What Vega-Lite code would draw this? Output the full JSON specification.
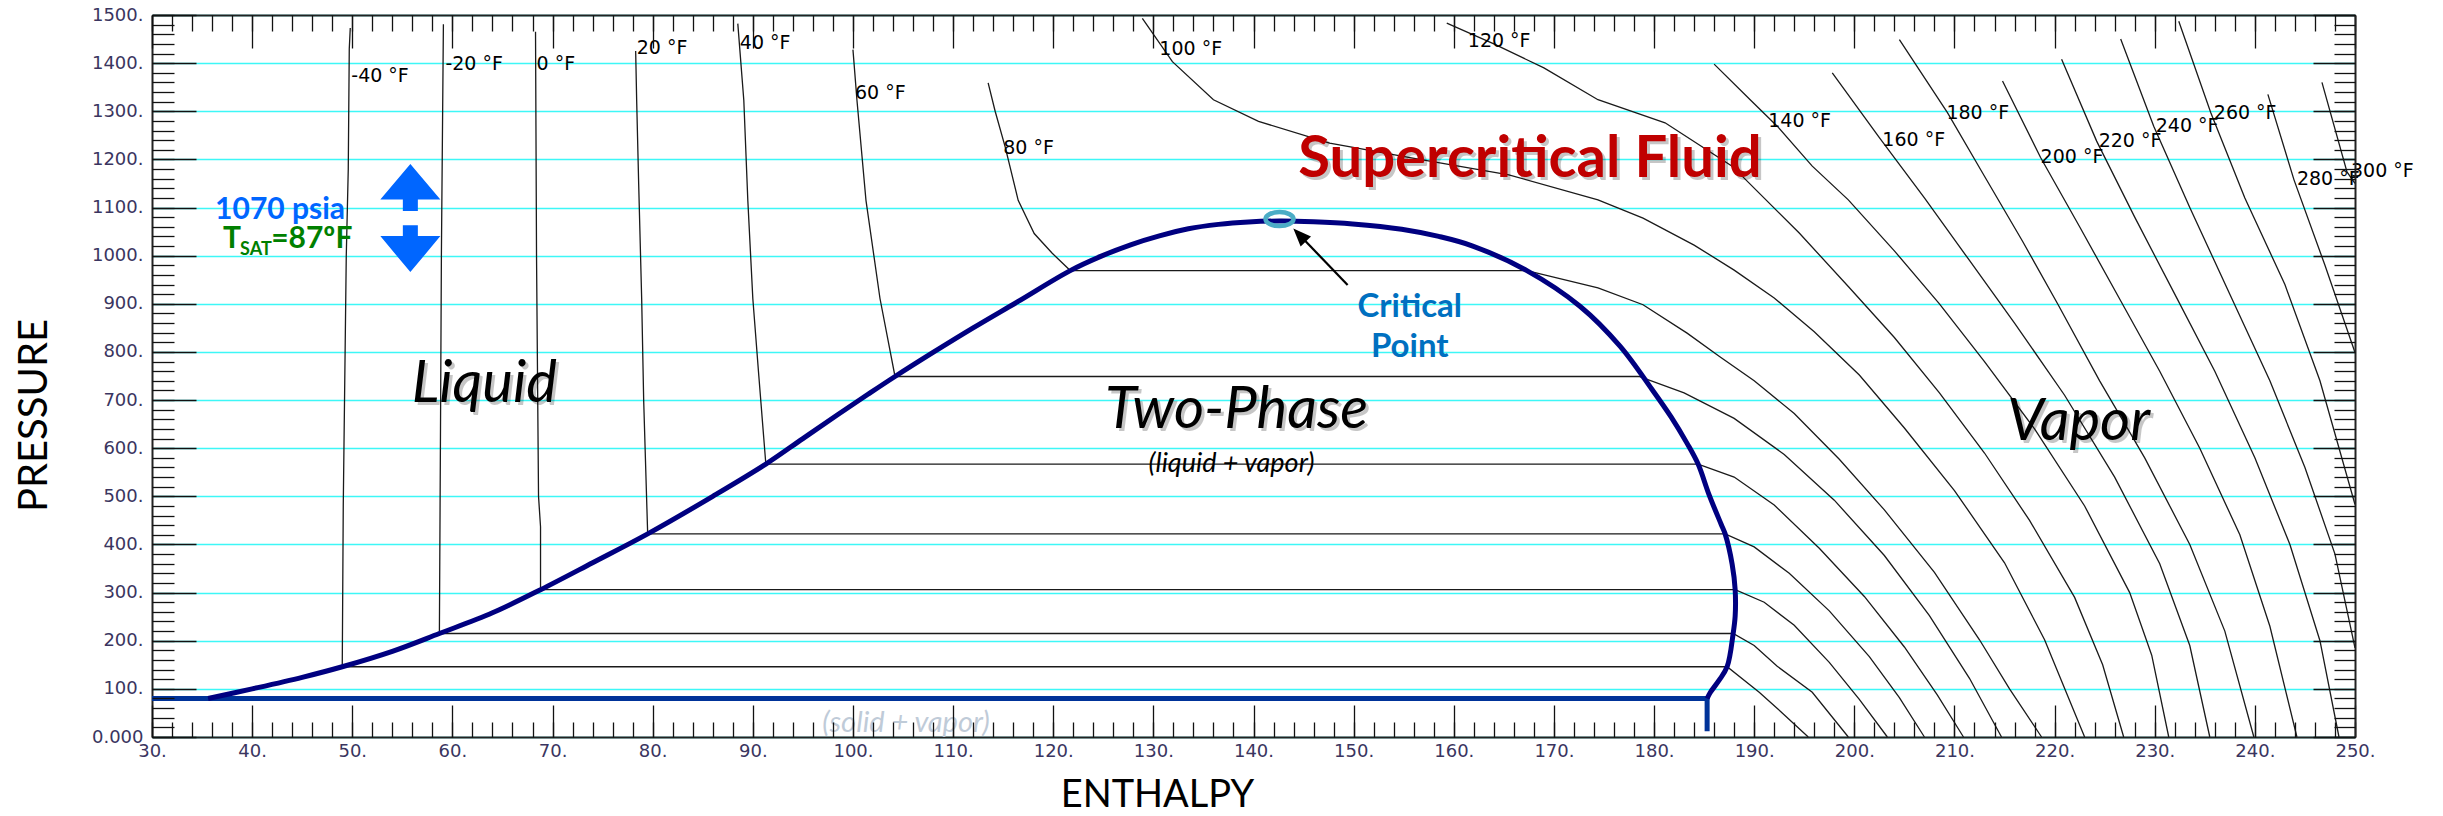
{
  "$schema": "https://vega.github.io/schema/vega-lite/v6.json",
  "width": 2203,
  "height": 722,
  "autosize": {"type": "none"},
  "padding": {"left": 152, "top": 15, "right": 88, "bottom": 79},
  "background": "white",
  "config": {"view": {"stroke": null}},
  "resolve": {"axis": {"x": "independent", "y": "independent"}},
  "datasets": {
    "iso": [
      {"T":"-40","i":0,"h":49.8,"p":1473},{"T":"-40","i":1,"h":49.7,"p":1430},{"T":"-40","i":2,"h":49.6,"p":1180},{"T":"-40","i":3,"h":49.4,"p":1000},{"T":"-40","i":4,"h":49.1,"p":480},{"T":"-40","i":5,"h":49.0,"p":146},{"T":"-40","i":6,"h":187.3,"p":146},{"T":"-40","i":7,"h":190.5,"p":93},{"T":"-40","i":8,"h":192.8,"p":50},{"T":"-40","i":9,"h":195.4,"p":0},
      {"T":"-20","i":0,"h":59.1,"p":1481},{"T":"-20","i":1,"h":58.9,"p":1000},{"T":"-20","i":2,"h":58.8,"p":600},{"T":"-20","i":3,"h":58.7,"p":215},{"T":"-20","i":4,"h":187.9,"p":215},{"T":"-20","i":5,"h":190,"p":190},{"T":"-20","i":6,"h":192.3,"p":147},{"T":"-20","i":7,"h":195.8,"p":93},{"T":"-20","i":8,"h":199.4,"p":0},
      {"T":"0","i":0,"h":68.3,"p":1465},{"T":"0","i":1,"h":68.4,"p":1000},{"T":"0","i":2,"h":68.6,"p":500},{"T":"0","i":3,"h":68.8,"p":437},{"T":"0","i":4,"h":68.8,"p":306},{"T":"0","i":5,"h":188.1,"p":306},{"T":"0","i":6,"h":191,"p":280},{"T":"0","i":7,"h":194,"p":232},{"T":"0","i":8,"h":197.5,"p":155},{"T":"0","i":9,"h":200.5,"p":78},{"T":"0","i":10,"h":203.3,"p":0},
      {"T":"20","i":0,"h":78.3,"p":1425},{"T":"20","i":1,"h":78.4,"p":1323},{"T":"20","i":2,"h":78.6,"p":1150},{"T":"20","i":3,"h":78.9,"p":911},{"T":"20","i":4,"h":79.1,"p":700},{"T":"20","i":5,"h":79.5,"p":422},{"T":"20","i":6,"h":187.1,"p":422},{"T":"20","i":7,"h":190,"p":395},{"T":"20","i":8,"h":193.5,"p":340},{"T":"20","i":9,"h":197.5,"p":262},{"T":"20","i":10,"h":201.5,"p":167},{"T":"20","i":11,"h":204.5,"p":82},{"T":"20","i":12,"h":207,"p":0},
      {"T":"40","i":0,"h":88.5,"p":1482},{"T":"40","i":1,"h":89.1,"p":1323},{"T":"40","i":2,"h":89.5,"p":1115},{"T":"40","i":3,"h":90.0,"p":911},{"T":"40","i":4,"h":90.6,"p":750},{"T":"40","i":5,"h":91.3,"p":567},{"T":"40","i":6,"h":184.4,"p":567},{"T":"40","i":7,"h":188,"p":540},{"T":"40","i":8,"h":192,"p":482},{"T":"40","i":9,"h":196.5,"p":392},{"T":"40","i":10,"h":201,"p":292},{"T":"40","i":11,"h":205,"p":187},{"T":"40","i":12,"h":208.3,"p":87},{"T":"40","i":13,"h":210.9,"p":0},
      {"T":"60","i":0,"h":100.0,"p":1428},{"T":"60","i":1,"h":100.4,"p":1323},{"T":"60","i":2,"h":101.3,"p":1115},{"T":"60","i":3,"h":102.7,"p":911},{"T":"60","i":4,"h":104.2,"p":749},{"T":"60","i":5,"h":178.5,"p":749},{"T":"60","i":6,"h":183,"p":715},{"T":"60","i":7,"h":188,"p":662},{"T":"60","i":8,"h":193,"p":587},{"T":"60","i":9,"h":198,"p":492},{"T":"60","i":10,"h":203,"p":377},{"T":"60","i":11,"h":207.5,"p":252},{"T":"60","i":12,"h":211.5,"p":122},{"T":"60","i":13,"h":214.7,"p":0},
      {"T":"80","i":0,"h":113.5,"p":1359},{"T":"80","i":1,"h":114.2,"p":1300},{"T":"80","i":2,"h":115.2,"p":1226},{"T":"80","i":3,"h":116.5,"p":1115},{"T":"80","i":4,"h":118.1,"p":1046},{"T":"80","i":5,"h":119.9,"p":1005},{"T":"80","i":6,"h":121.7,"p":969},{"T":"80","i":7,"h":167.3,"p":969},{"T":"80","i":8,"h":174.4,"p":933},{"T":"80","i":9,"h":178.9,"p":898},{"T":"80","i":10,"h":183.3,"p":839},{"T":"80","i":11,"h":186.5,"p":791},{"T":"80","i":12,"h":190,"p":740},{"T":"80","i":13,"h":194,"p":672},{"T":"80","i":14,"h":198.5,"p":577},{"T":"80","i":15,"h":203,"p":472},{"T":"80","i":16,"h":208,"p":342},{"T":"80","i":17,"h":212.5,"p":202},{"T":"80","i":18,"h":215.5,"p":100},{"T":"80","i":19,"h":218.7,"p":0},
      {"T":"100","i":0,"h":128.9,"p":1493},{"T":"100","i":1,"h":131.9,"p":1403},{"T":"100","i":2,"h":136,"p":1324},{"T":"100","i":3,"h":140.5,"p":1279},{"T":"100","i":4,"h":147.6,"p":1234},{"T":"100","i":5,"h":156.6,"p":1200},{"T":"100","i":6,"h":165.5,"p":1168},{"T":"100","i":7,"h":174.4,"p":1116},{"T":"100","i":8,"h":178.9,"p":1078},{"T":"100","i":9,"h":184,"p":1022},{"T":"100","i":10,"h":188,"p":970},{"T":"100","i":11,"h":192,"p":912},{"T":"100","i":12,"h":196,"p":842},{"T":"100","i":13,"h":200.5,"p":752},{"T":"100","i":14,"h":205,"p":642},{"T":"100","i":15,"h":210,"p":512},{"T":"100","i":16,"h":215,"p":362},{"T":"100","i":17,"h":219,"p":202},{"T":"100","i":18,"h":223,"p":0},
      {"T":"120","i":0,"h":159.3,"p":1483},{"T":"120","i":1,"h":164,"p":1440},{"T":"120","i":2,"h":169,"p":1390},{"T":"120","i":3,"h":174.4,"p":1324},{"T":"120","i":4,"h":181.1,"p":1276},{"T":"120","i":5,"h":187.8,"p":1186},{"T":"120","i":6,"h":194.5,"p":1047},{"T":"120","i":7,"h":199.4,"p":936},{"T":"120","i":8,"h":204,"p":830},{"T":"120","i":9,"h":208.5,"p":715},{"T":"120","i":10,"h":213,"p":590},{"T":"120","i":11,"h":217.5,"p":450},{"T":"120","i":12,"h":222,"p":290},{"T":"120","i":13,"h":224.8,"p":150},{"T":"120","i":14,"h":226.9,"p":0},
      {"T":"140","i":0,"h":186.0,"p":1398},{"T":"140","i":1,"h":189.6,"p":1324},{"T":"140","i":2,"h":192.3,"p":1269},{"T":"140","i":3,"h":195.8,"p":1186},{"T":"140","i":4,"h":199.4,"p":1116},{"T":"140","i":5,"h":204,"p":1010},{"T":"140","i":6,"h":208.5,"p":900},{"T":"140","i":7,"h":213,"p":780},{"T":"140","i":8,"h":218,"p":640},{"T":"140","i":9,"h":223,"p":480},{"T":"140","i":10,"h":227.5,"p":300},{"T":"140","i":11,"h":229.7,"p":170},{"T":"140","i":12,"h":231.4,"p":0},
      {"T":"160","i":0,"h":197.8,"p":1380},{"T":"160","i":1,"h":202.5,"p":1245},{"T":"160","i":2,"h":207,"p":1120},{"T":"160","i":3,"h":211.5,"p":990},{"T":"160","i":4,"h":216,"p":860},{"T":"160","i":5,"h":221,"p":710},{"T":"160","i":6,"h":226,"p":540},{"T":"160","i":7,"h":230.5,"p":360},{"T":"160","i":8,"h":233.5,"p":190},{"T":"160","i":9,"h":235.5,"p":0},
      {"T":"180","i":0,"h":204.5,"p":1449},{"T":"180","i":1,"h":209.3,"p":1297},{"T":"180","i":2,"h":213,"p":1165},{"T":"180","i":3,"h":216.8,"p":1030},{"T":"180","i":4,"h":220.3,"p":900},{"T":"180","i":5,"h":224.5,"p":740},{"T":"180","i":6,"h":229,"p":580},{"T":"180","i":7,"h":233.5,"p":400},{"T":"180","i":8,"h":237,"p":220},{"T":"180","i":9,"h":239.9,"p":0},
      {"T":"200","i":0,"h":214.8,"p":1363},{"T":"200","i":1,"h":218.6,"p":1204},{"T":"200","i":2,"h":222.5,"p":1060},{"T":"200","i":3,"h":226.5,"p":910},{"T":"200","i":4,"h":230.5,"p":760},{"T":"200","i":5,"h":234.5,"p":600},{"T":"200","i":6,"h":238.5,"p":420},{"T":"200","i":7,"h":241.5,"p":230},{"T":"200","i":8,"h":244.2,"p":0},
      {"T":"220","i":0,"h":220.7,"p":1408},{"T":"220","i":1,"h":224.2,"p":1238},{"T":"220","i":2,"h":228,"p":1080},{"T":"220","i":3,"h":232,"p":920},{"T":"220","i":4,"h":236,"p":760},{"T":"220","i":5,"h":240,"p":580},{"T":"220","i":6,"h":243.5,"p":400},{"T":"220","i":7,"h":246.5,"p":200},{"T":"220","i":8,"h":248.4,"p":0},
      {"T":"240","i":0,"h":226.6,"p":1450},{"T":"240","i":1,"h":229.9,"p":1269},{"T":"240","i":2,"h":233.5,"p":1100},{"T":"240","i":3,"h":237.5,"p":920},{"T":"240","i":4,"h":241.5,"p":740},{"T":"240","i":5,"h":245,"p":560},{"T":"240","i":6,"h":248,"p":380},{"T":"240","i":7,"h":250,"p":185},
      {"T":"260","i":0,"h":232.4,"p":1487},{"T":"260","i":1,"h":235.6,"p":1297},{"T":"260","i":2,"h":239,"p":1120},{"T":"260","i":3,"h":243,"p":940},{"T":"260","i":4,"h":246.5,"p":740},{"T":"260","i":5,"h":250,"p":483},
      {"T":"280","i":0,"h":241.3,"p":1335},{"T":"280","i":1,"h":243.9,"p":1158},{"T":"280","i":2,"h":247,"p":980},{"T":"280","i":3,"h":250,"p":799},
      {"T":"300","i":0,"h":246.7,"p":1360},{"T":"300","i":1,"h":249.2,"p":1174},{"T":"300","i":2,"h":250,"p":1150}
    ],
    "dome": [
      {"i":0,"h":35.6,"p":80},{"i":1,"h":40,"p":100},{"i":2,"h":45,"p":124},{"i":3,"h":49.0,"p":146},{"i":4,"h":54,"p":178},{"i":5,"h":58.7,"p":215},{"i":6,"h":64,"p":258},{"i":7,"h":68.8,"p":306},{"i":8,"h":74,"p":362},{"i":9,"h":79.5,"p":422},{"i":10,"h":86,"p":500},{"i":11,"h":91.3,"p":567},{"i":12,"h":95,"p":620},{"i":13,"h":98.5,"p":670},{"i":14,"h":101.5,"p":712},{"i":15,"h":104.2,"p":749},{"i":16,"h":108,"p":799},{"i":17,"h":112,"p":850},{"i":18,"h":116.5,"p":905},{"i":19,"h":121.7,"p":969},{"i":20,"h":124.8,"p":999},{"i":21,"h":127.8,"p":1023},{"i":22,"h":130.6,"p":1041},{"i":23,"h":133.5,"p":1056},{"i":24,"h":136.5,"p":1065},{"i":25,"h":139.5,"p":1070},{"i":26,"h":142.6,"p":1072},{"i":27,"h":146,"p":1070.5},{"i":28,"h":149.9,"p":1066},{"i":29,"h":154.8,"p":1055},{"i":30,"h":158.5,"p":1040},{"i":31,"h":161.9,"p":1020},{"i":32,"h":167.3,"p":969},{"i":33,"h":172.6,"p":895},{"i":34,"h":176.6,"p":812},{"i":35,"h":179.8,"p":722},{"i":36,"h":181.7,"p":665},{"i":37,"h":183.3,"p":610},{"i":38,"h":184.4,"p":567},{"i":39,"h":185.5,"p":503},{"i":40,"h":186.7,"p":442},{"i":41,"h":187.1,"p":422},{"i":42,"h":187.8,"p":359},{"i":43,"h":188.1,"p":306},{"i":44,"h":188.1,"p":251},{"i":45,"h":187.9,"p":215},{"i":46,"h":187.3,"p":146},{"i":47,"h":186.5,"p":118},{"i":48,"h":185.6,"p":92},{"i":49,"h":185.3,"p":80}
    ],
    "isolabels": [
      {"t":"-40 °F","h":49.9,"p":1374},{"t":"-20 °F","h":59.3,"p":1398},{"t":"0 °F","h":68.4,"p":1398},{"t":"20 °F","h":78.4,"p":1431},{"t":"40 °F","h":88.7,"p":1441},{"t":"60 °F","h":100.2,"p":1337},{"t":"80 °F","h":115.0,"p":1224},{"t":"100 °F","h":130.6,"p":1429},{"t":"120 °F","h":161.4,"p":1446},{"t":"140 °F","h":191.4,"p":1280},{"t":"160 °F","h":202.8,"p":1240},{"t":"180 °F","h":209.2,"p":1297},{"t":"200 °F","h":218.6,"p":1204},{"t":"220 °F","h":224.4,"p":1238},{"t":"240 °F","h":230.1,"p":1270},{"t":"260 °F","h":235.9,"p":1297},{"t":"280 °F","h":244.2,"p":1159},{"t":"300 °F","h":249.6,"p":1175}
    ],
    "regions": [
      {"t":"Liquid","h":63.2,"p":697},{"t":"Two-Phase","h":138.3,"p":641},{"t":"Vapor","h":222.4,"p":618}
    ]
  },
  "layer": [
    {
      "data": {"name": "iso"},
      "mark": {"type": "line", "stroke": "#1a1a1a", "strokeWidth": 1.3},
      "encoding": {
        "x": {"field": "h", "type": "quantitative", "scale": {"domain": [30, 250], "nice": false, "zero": false},
          "axis": {"orient": "bottom", "title": "ENTHALPY", "values": [30,40,50,60,70,80,90,100,110,120,130,140,150,160,170,180,190,200,210,220,230,240,250],
            "labelExpr": "datum.value + '.'", "ticks": false, "grid": false, "domain": true, "domainColor": "#222222", "domainWidth": 2,
            "labelFont": "DejaVu Sans", "labelFontSize": 18, "labelColor": "#3A3560", "labelPadding": 5, "labelFlush": false, "labelOverlap": false, "labelBound": false,
            "titleFont": "Lato", "titleFontSize": 38, "titleFontWeight": "normal", "titleColor": "#000000", "titleX": 1005, "titleY": 69, "titleAlign": "center", "titleBaseline": "alphabetic", "zindex": 0}},
        "y": {"field": "p", "type": "quantitative", "scale": {"domain": [0, 1500], "nice": false, "zero": false},
          "axis": {"orient": "left", "title": "PRESSURE", "values": [0,100,200,300,400,500,600,700,800,900,1000,1100,1200,1300,1400,1500],
            "labelExpr": "datum.value == 0 ? '0.000' : datum.value + '.'", "ticks": false, "grid": true, "gridColor": "#3DF7F7", "gridWidth": 1.5, "gridOpacity": 1,
            "domain": true, "domainColor": "#222222", "domainWidth": 2,
            "labelFont": "DejaVu Sans", "labelFontSize": 18, "labelColor": "#3A3560", "labelPadding": 9, "labelFlush": false, "labelOverlap": false, "labelBound": false,
            "titleFont": "Lato", "titleFontSize": 40, "titleFontWeight": "normal", "titleColor": "#000000", "titleAngle": 270, "titleX": -106, "titleY": 400, "titleAlign": "center", "titleBaseline": "alphabetic", "zindex": 0}},
        "detail": {"field": "T", "type": "nominal"},
        "order": {"field": "i", "type": "quantitative"}
      }
    },
    {
      "data": {"values": [{"i":0,"h":30,"p":80},{"i":1,"h":185.3,"p":80},{"i":2,"h":185.3,"p":12}]},
      "mark": {"type": "line", "stroke": "#003399", "strokeWidth": 5, "strokeJoin": "miter"},
      "encoding": {
        "x": {"field": "h", "type": "quantitative", "scale": {"domain": [30, 250], "nice": false, "zero": false},
          "axis": {"orient": "top", "offset": -722, "title": null, "labels": false, "grid": false, "domain": false, "ticks": true, "tickSize": 32, "tickColor": "#111111", "tickWidth": 1.3, "zindex": 1,
            "values": [30,40,50,60,70,80,90,100,110,120,130,140,150,160,170,180,190,200,210,220,230,240,250]}},
        "y": {"field": "p", "type": "quantitative", "scale": {"domain": [0, 1500], "nice": false, "zero": false},
          "axis": {"orient": "right", "offset": -2203, "title": null, "labels": false, "grid": false, "domain": false, "ticks": true, "tickSize": 44, "tickColor": "#111111", "tickWidth": 1.3, "zindex": 1,
            "values": [0,100,200,300,400,500,600,700,800,900,1000,1100,1200,1300,1400,1500]}},
        "order": {"field": "i", "type": "quantitative"}
      }
    },
    {
      "data": {"name": "dome"},
      "mark": {"type": "line", "stroke": "#000080", "strokeWidth": 5, "interpolate": "catmull-rom"},
      "encoding": {
        "x": {"field": "h", "type": "quantitative", "scale": {"domain": [30, 250], "nice": false, "zero": false},
          "axis": {"orient": "top", "offset": -722, "title": null, "labels": false, "grid": false, "domain": false, "ticks": true, "tickSize": 15, "tickColor": "#111111", "tickWidth": 1.3, "zindex": 1,
            "values": [30,32,34,36,38,40,42,44,46,48,50,52,54,56,58,60,62,64,66,68,70,72,74,76,78,80,82,84,86,88,90,92,94,96,98,100,102,104,106,108,110,112,114,116,118,120,122,124,126,128,130,132,134,136,138,140,142,144,146,148,150,152,154,156,158,160,162,164,166,168,170,172,174,176,178,180,182,184,186,188,190,192,194,196,198,200,202,204,206,208,210,212,214,216,218,220,222,224,226,228,230,232,234,236,238,240,242,244,246,248,250]}},
        "y": {"field": "p", "type": "quantitative", "scale": {"domain": [0, 1500], "nice": false, "zero": false},
          "axis": {"orient": "right", "offset": -2203, "title": null, "labels": false, "grid": false, "domain": false, "ticks": true, "tickSize": 22, "tickColor": "#111111", "tickWidth": 1.3, "zindex": 1,
            "values": [0,20,40,60,80,100,120,140,160,180,200,220,240,260,280,300,320,340,360,380,400,420,440,460,480,500,520,540,560,580,600,620,640,660,680,700,720,740,760,780,800,820,840,860,880,900,920,940,960,980,1000,1020,1040,1060,1080,1100,1120,1140,1160,1180,1200,1220,1240,1260,1280,1300,1320,1340,1360,1380,1400,1420,1440,1460,1480,1500]}},
        "order": {"field": "i", "type": "quantitative"}
      }
    },
    {
      "data": {"values": [{"h": 142.6, "p": 1076}]},
      "mark": {"type": "point", "shape": "M -1 0 C -1 -0.276 -0.552 -0.5 0 -0.5 C 0.552 -0.5 1 -0.276 1 0 C 1 0.276 0.552 0.5 0 0.5 C -0.552 0.5 -1 0.276 -1 0 Z", "size": 784, "filled": false, "stroke": "#4BACC6", "strokeWidth": 4.5, "opacity": 1},
      "encoding": {
        "x": {"field": "h", "type": "quantitative", "scale": {"domain": [30, 250], "nice": false, "zero": false},
          "axis": {"orient": "bottom", "offset": -722, "title": null, "labels": false, "grid": false, "domain": true, "domainColor": "#222222", "domainWidth": 2, "ticks": true, "tickSize": 33, "tickColor": "#111111", "tickWidth": 1.3, "zindex": 1,
            "values": [30,40,50,60,70,80,90,100,110,120,130,140,150,160,170,180,190,200,210,220,230,240,250]}},
        "y": {"field": "p", "type": "quantitative", "scale": {"domain": [0, 1500], "nice": false, "zero": false},
          "axis": {"orient": "left", "offset": -2203, "title": null, "labels": false, "grid": false, "domain": true, "domainColor": "#222222", "domainWidth": 2, "ticks": true, "tickSize": 42, "tickColor": "#111111", "tickWidth": 1.3, "zindex": 1,
            "values": [0,100,200,300,400,500,600,700,800,900,1000,1100,1200,1300,1400,1500]}}
      }
    },
    {
      "data": {"values": [{"h": 149.4, "p": 939, "h2": 144.6, "p2": 1043}]},
      "mark": {"type": "rule", "stroke": "#000000", "strokeWidth": 2.2},
      "encoding": {
        "x": {"field": "h", "type": "quantitative", "scale": {"domain": [30, 250], "nice": false, "zero": false},
          "axis": {"orient": "bottom", "offset": -722, "title": null, "labels": false, "grid": false, "domain": false, "ticks": true, "tickSize": 16, "tickColor": "#111111", "tickWidth": 1.3, "zindex": 1,
            "values": [30,32,34,36,38,40,42,44,46,48,50,52,54,56,58,60,62,64,66,68,70,72,74,76,78,80,82,84,86,88,90,92,94,96,98,100,102,104,106,108,110,112,114,116,118,120,122,124,126,128,130,132,134,136,138,140,142,144,146,148,150,152,154,156,158,160,162,164,166,168,170,172,174,176,178,180,182,184,186,188,190,192,194,196,198,200,202,204,206,208,210,212,214,216,218,220,222,224,226,228,230,232,234,236,238,240,242,244,246,248,250]}},
        "y": {"field": "p", "type": "quantitative", "scale": {"domain": [0, 1500], "nice": false, "zero": false},
          "axis": {"orient": "left", "offset": -2203, "title": null, "labels": false, "grid": false, "domain": false, "ticks": true, "tickSize": 21, "tickColor": "#111111", "tickWidth": 1.3, "zindex": 1,
            "values": [0,20,40,60,80,100,120,140,160,180,200,220,240,260,280,300,320,340,360,380,400,420,440,460,480,500,520,540,560,580,600,620,640,660,680,700,720,740,760,780,800,820,840,860,880,900,920,940,960,980,1000,1020,1040,1060,1080,1100,1120,1140,1160,1180,1200,1220,1240,1260,1280,1300,1320,1340,1360,1380,1400,1420,1440,1460,1480,1500]}},
        "x2": {"field": "h2"},
        "y2": {"field": "p2"}
      }
    },
    {
      "data": {"values": [{"h": 144.6, "p": 1043}]},
      "mark": {"type": "point", "shape": "M 0 -1 L 0.8 1 L -0.8 1 Z", "size": 324, "filled": true, "fill": "#000000", "stroke": null, "angle": -44, "opacity": 1},
      "encoding": {
        "x": {"field": "h", "type": "quantitative", "scale": {"domain": [30, 250], "nice": false, "zero": false}, "axis": null},
        "y": {"field": "p", "type": "quantitative", "scale": {"domain": [0, 1500], "nice": false, "zero": false}, "axis": null}
      }
    },
    {
      "data": {"values": [{"h": 55.8, "p": 1078}]},
      "mark": {"type": "point", "shape": "M 0 -1 L 0.556 -0.346 L 0.139 -0.346 L 0.139 -0.13 L -0.139 -0.13 L -0.139 -0.346 L -0.556 -0.346 Z M 0.139 0.13 L 0.139 0.333 L 0.556 0.333 L 0 1 L -0.556 0.333 L -0.139 0.333 L -0.139 0.13 Z", "size": 11664, "filled": true, "fill": "#0066FF", "stroke": null, "opacity": 1},
      "encoding": {
        "x": {"field": "h", "type": "quantitative", "scale": {"domain": [30, 250], "nice": false, "zero": false}, "axis": null},
        "y": {"field": "p", "type": "quantitative", "scale": {"domain": [0, 1500], "nice": false, "zero": false}, "axis": null}
      }
    },
    {
      "data": {"name": "isolabels"},
      "mark": {"type": "text", "font": "DejaVu Sans", "fontSize": 19, "fill": "#000000", "align": "left", "baseline": "middle"},
      "encoding": {
        "x": {"field": "h", "type": "quantitative", "scale": {"domain": [30, 250], "nice": false, "zero": false}, "axis": null},
        "y": {"field": "p", "type": "quantitative", "scale": {"domain": [0, 1500], "nice": false, "zero": false}, "axis": null},
        "text": {"field": "t"}
      }
    },
    {
      "data": {"name": "regions"},
      "mark": {"type": "text", "font": "Lato", "fontStyle": "italic", "fontSize": 58, "fill": "#000000", "opacity": 0.22, "align": "center", "baseline": "alphabetic", "dx": 3, "dy": 3},
      "encoding": {
        "x": {"field": "h", "type": "quantitative", "scale": {"domain": [30, 250], "nice": false, "zero": false}, "axis": null},
        "y": {"field": "p", "type": "quantitative", "scale": {"domain": [0, 1500], "nice": false, "zero": false}, "axis": null},
        "text": {"field": "t"}
      }
    },
    {
      "data": {"name": "regions"},
      "mark": {"type": "text", "font": "Lato", "fontStyle": "italic", "fontSize": 58, "fill": "#000000", "align": "center", "baseline": "alphabetic"},
      "encoding": {
        "x": {"field": "h", "type": "quantitative", "scale": {"domain": [30, 250], "nice": false, "zero": false}, "axis": null},
        "y": {"field": "p", "type": "quantitative", "scale": {"domain": [0, 1500], "nice": false, "zero": false}, "axis": null},
        "text": {"field": "t"}
      }
    },
    {
      "data": {"values": [{"t": "(liquid + vapor)", "h": 137.8, "p": 551}]},
      "mark": {"type": "text", "font": "Lato", "fontStyle": "italic", "fontSize": 27, "fill": "#000000", "align": "center", "baseline": "alphabetic"},
      "encoding": {
        "x": {"field": "h", "type": "quantitative", "scale": {"domain": [30, 250], "nice": false, "zero": false}, "axis": null},
        "y": {"field": "p", "type": "quantitative", "scale": {"domain": [0, 1500], "nice": false, "zero": false}, "axis": null},
        "text": {"field": "t"}
      }
    },
    {
      "data": {"values": [{"t": "(solid + vapor)", "h": 105.3, "p": 10}]},
      "mark": {"type": "text", "font": "Lato", "fontStyle": "italic", "fontSize": 29, "fill": "#BFCBD8", "align": "center", "baseline": "alphabetic"},
      "encoding": {
        "x": {"field": "h", "type": "quantitative", "scale": {"domain": [30, 250], "nice": false, "zero": false}, "axis": null},
        "y": {"field": "p", "type": "quantitative", "scale": {"domain": [0, 1500], "nice": false, "zero": false}, "axis": null},
        "text": {"field": "t"}
      }
    },
    {
      "data": {"values": [{"t": "Supercritical Fluid", "h": 167.6, "p": 1163}]},
      "mark": {"type": "text", "font": "Lato", "fontWeight": "bold", "fontSize": 58, "fill": "#000000", "opacity": 0.22, "align": "center", "baseline": "alphabetic", "dx": 3, "dy": 3},
      "encoding": {
        "x": {"field": "h", "type": "quantitative", "scale": {"domain": [30, 250], "nice": false, "zero": false}, "axis": null},
        "y": {"field": "p", "type": "quantitative", "scale": {"domain": [0, 1500], "nice": false, "zero": false}, "axis": null},
        "text": {"field": "t"}
      }
    },
    {
      "data": {"values": [{"t": "Supercritical Fluid", "h": 167.6, "p": 1163}]},
      "mark": {"type": "text", "font": "Lato", "fontWeight": "bold", "fontSize": 58, "fill": "#C00000", "align": "center", "baseline": "alphabetic"},
      "encoding": {
        "x": {"field": "h", "type": "quantitative", "scale": {"domain": [30, 250], "nice": false, "zero": false}, "axis": null},
        "y": {"field": "p", "type": "quantitative", "scale": {"domain": [0, 1500], "nice": false, "zero": false}, "axis": null},
        "text": {"field": "t"}
      }
    },
    {
      "data": {"values": [{"t": "Critical", "h": 155.6, "p": 873}, {"t": "Point", "h": 155.6, "p": 790}]},
      "mark": {"type": "text", "font": "Lato", "fontWeight": "bold", "fontSize": 33, "fill": "#0070C0", "align": "center", "baseline": "alphabetic"},
      "encoding": {
        "x": {"field": "h", "type": "quantitative", "scale": {"domain": [30, 250], "nice": false, "zero": false}, "axis": null},
        "y": {"field": "p", "type": "quantitative", "scale": {"domain": [0, 1500], "nice": false, "zero": false}, "axis": null},
        "text": {"field": "t"}
      }
    },
    {
      "data": {"values": [{"t": "1070 psia", "h": 36.3, "p": 1076}]},
      "mark": {"type": "text", "font": "Lato", "fontWeight": "bold", "fontSize": 30, "fill": "#0066FF", "align": "left", "baseline": "alphabetic"},
      "encoding": {
        "x": {"field": "h", "type": "quantitative", "scale": {"domain": [30, 250], "nice": false, "zero": false}, "axis": null},
        "y": {"field": "p", "type": "quantitative", "scale": {"domain": [0, 1500], "nice": false, "zero": false}, "axis": null},
        "text": {"field": "t"}
      }
    },
    {
      "data": {"values": [{"t": "T", "h": 37.1, "p": 1015}, {"t": "=87ºF", "h": 41.9, "p": 1015}]},
      "mark": {"type": "text", "font": "Lato", "fontWeight": "bold", "fontSize": 30, "fill": "#008000", "align": "left", "baseline": "alphabetic"},
      "encoding": {
        "x": {"field": "h", "type": "quantitative", "scale": {"domain": [30, 250], "nice": false, "zero": false}, "axis": null},
        "y": {"field": "p", "type": "quantitative", "scale": {"domain": [0, 1500], "nice": false, "zero": false}, "axis": null},
        "text": {"field": "t"}
      }
    },
    {
      "data": {"values": [{"t": "SAT", "h": 38.8, "p": 1002}]},
      "mark": {"type": "text", "font": "Lato", "fontWeight": "bold", "fontSize": 18, "fill": "#008000", "align": "left", "baseline": "alphabetic"},
      "encoding": {
        "x": {"field": "h", "type": "quantitative", "scale": {"domain": [30, 250], "nice": false, "zero": false}, "axis": null},
        "y": {"field": "p", "type": "quantitative", "scale": {"domain": [0, 1500], "nice": false, "zero": false}, "axis": null},
        "text": {"field": "t"}
      }
    }
  ]
}
